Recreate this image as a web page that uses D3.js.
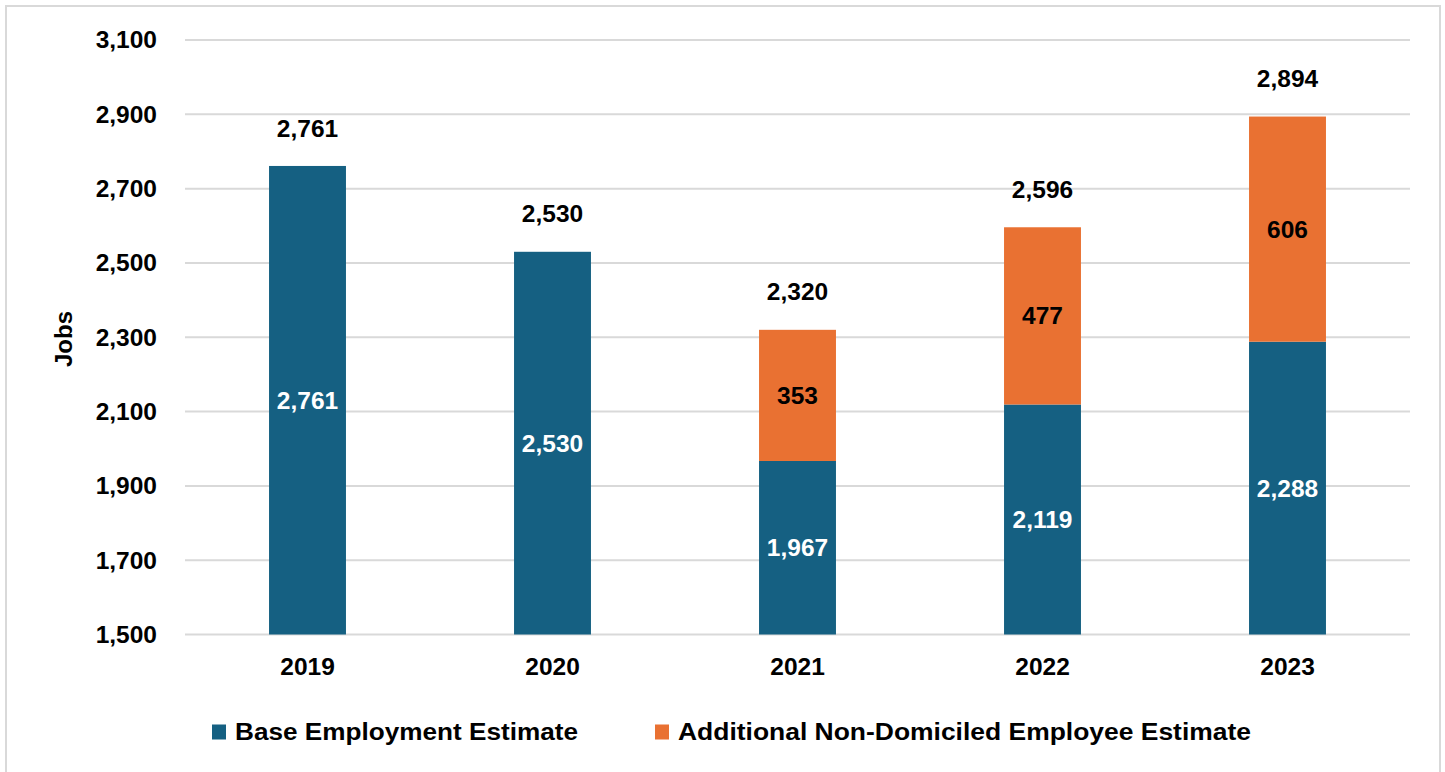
<!DOCTYPE html>
<html>
<head>
<meta charset="utf-8">
<script src="https://cdn.jsdelivr.net/npm/d3@7"></script>
<style>
  html, body { margin: 0; padding: 0; background: #fff; }
  svg { display: block; }
  text { font-family: "Liberation Sans", Arial, sans-serif; font-weight: bold; }
</style>
</head>
<body>
<svg id="chart" width="1445" height="772"></svg>
<script>
const years = ["2019", "2020", "2021", "2022", "2023"];
const baseValues = [2761, 2530, 1967, 2119, 2288];
const additionalValues = [0, 0, 353, 477, 606];
const totals = [2761, 2530, 2320, 2596, 2894];
const yTicks = [1500, 1700, 1900, 2100, 2300, 2500, 2700, 2900, 3100];
const seriesNames = ["Base Employment Estimate", "Additional Non-Domiciled Employee Estimate"];
const colors = ["#156082", "#E97132"];

const svg = d3.select("#chart");
const fmt = d3.format(",");
const FS = 24.5;

// frame
svg.append("rect").attr("x", 6).attr("y", 6).attr("width", 1434).attr("height", 780)
  .attr("fill", "none").attr("stroke", "#d9d9d9").attr("stroke-width", 2);

const x = d3.scaleBand().domain(years).range([185, 1410]).paddingInner(0.686).paddingOuter(0.343);
const y = d3.scaleLinear().domain([1500, 3100]).range([634.5, 40]);

// gridlines
svg.append("g").selectAll("line").data(yTicks).join("line")
  .attr("x1", 185).attr("x2", 1410)
  .attr("y1", d => y(d)).attr("y2", d => y(d))
  .attr("stroke", "#d9d9d9").attr("stroke-width", 2);

// y axis labels
const yAxis = d3.axisLeft(y).tickValues(yTicks).tickFormat(fmt).tickSize(0).tickPadding(0);
const gy = svg.append("g").attr("transform", "translate(157,0)").call(yAxis);
gy.select(".domain").remove();
gy.selectAll("text").attr("font-size", FS).attr("fill", "#000")
  .attr("font-family", "'Liberation Sans', Arial, sans-serif").attr("font-weight", "bold");

// x axis labels
const xAxis = d3.axisBottom(x).tickSize(0).tickPadding(0);
const gx = svg.append("g").attr("transform", "translate(0,658)").call(xAxis);
gx.select(".domain").remove();
gx.selectAll("text").attr("font-size", FS).attr("fill", "#000")
  .attr("font-family", "'Liberation Sans', Arial, sans-serif").attr("font-weight", "bold");

// stacked data
const data = years.map((yr, i) => ({ year: yr, base: baseValues[i], additional: additionalValues[i], total: totals[i] }));
const stack = d3.stack().keys(["base", "additional"]);
const layers = stack(data);

svg.append("g").selectAll("g").data(layers).join("g")
  .attr("fill", (d, i) => colors[i])
  .selectAll("rect").data(d => d.filter(s => s[1] > s[0])).join("rect")
  .attr("x", d => x(d.data.year))
  .attr("width", x.bandwidth())
  .attr("y", d => y(d[1]))
  .attr("height", d => y(Math.max(d[0], 1500)) - y(d[1]));

// inside labels
layers.forEach((layer, li) => {
  svg.append("g").selectAll("text").data(layer.filter(s => s[1] > s[0])).join("text")
    .attr("x", d => x(d.data.year) + x.bandwidth() / 2)
    .attr("y", d => (y(Math.max(d[0], 1500)) + y(d[1])) / 2)
    .attr("dy", "0.35em")
    .attr("text-anchor", "middle")
    .attr("font-size", FS)
    .attr("fill", li === 0 ? "#fff" : "#000")
    .text(d => fmt(d[1] - d[0]));
});

// totals above
svg.append("g").selectAll("text").data(data).join("text")
  .attr("x", d => x(d.year) + x.bandwidth() / 2)
  .attr("y", d => y(d.total) - 38)
  .attr("dy", "0.35em")
  .attr("text-anchor", "middle")
  .attr("font-size", FS)
  .attr("fill", "#000")
  .text(d => fmt(d.total));

// y title
svg.append("text")
  .attr("transform", "translate(64,339) rotate(-90)")
  .attr("dy", "0.35em")
  .attr("text-anchor", "middle")
  .attr("font-size", 24)
  .attr("fill", "#000")
  .text("Jobs");

// legend
const legendX = [212, 655];
const legendW = [343, 573];
const lg = svg.append("g").selectAll("g").data(seriesNames).join("g")
  .attr("transform", (d, i) => `translate(${legendX[i]},732)`);
lg.append("rect").attr("x", 0).attr("y", -7.5).attr("width", 14).attr("height", 15)
  .attr("fill", (d, i) => colors[i]);
lg.append("text").attr("x", 23).attr("dy", "0.35em")
  .attr("font-size", 23.5).attr("fill", "#000")
  .attr("textLength", (d, i) => legendW[i]).attr("lengthAdjust", "spacingAndGlyphs")
  .text(d => d);
</script>
</body>
</html>
